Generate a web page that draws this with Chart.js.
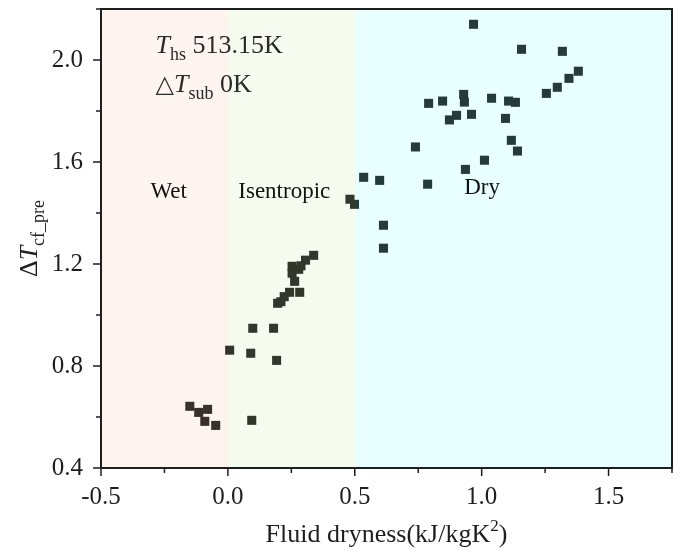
<!DOCTYPE html>
<html><head><meta charset="utf-8">
<script src="https://cdn.jsdelivr.net/npm/chart.js@4.4.1/dist/chart.umd.min.js"></script>
<style>html,body{margin:0;padding:0;background:#fff}</style>
</head><body>
<canvas id="c" width="680" height="552"></canvas>
<script>
// ---- data ----
const dryness = [0.338,0.306,0.288,0.253,0.279,0.253,0.263,0.243,0.283,0.222,0.209,0.196,
  0.098,0.180,0.007,0.090,0.192,-0.150,-0.115,-0.080,-0.091,-0.048,0.094,
  0.613,0.968,1.157,1.318,1.381,1.344,1.298,1.255,0.929,1.039,0.932,0.846,0.791,1.106,1.133,
  0.901,0.873,0.960,1.094,1.117,1.141,0.739,1.011,0.936,0.535,0.598,0.787,0.481,0.499,0.613];
const deltaTcf = [1.234,1.215,1.193,1.191,1.179,1.164,1.132,1.089,1.089,1.072,1.052,1.046,
  0.948,0.948,0.862,0.850,0.822,0.642,0.618,0.630,0.583,0.567,0.587,
  1.262,2.140,2.042,2.034,1.956,1.928,1.893,1.869,1.865,1.850,1.835,1.839,1.830,1.839,1.834,
  1.783,1.765,1.787,1.771,1.685,1.643,1.659,1.607,1.571,1.540,1.528,1.513,1.454,1.434,1.352];
const regionNames = ['Wet', 'Isentropic', 'Dry'];
const regionEdges = [-0.5, 0.0, 0.5, 1.75];
const xMajorTicks = [-0.5, 0.0, 0.5, 1.0, 1.5];
const yMajorTicks = [0.4, 0.8, 1.2, 1.6, 2.0];

// ---- styles ----
const regionColors = ['rgba(245,200,175,0.2)', 'rgba(205,240,175,0.2)', 'rgba(145,255,255,0.2)'];
const regionLabelPos = [[-0.305, 1.459], [0.041, 1.459], [0.931, 1.475]];
const SERIF = '"Liberation Serif", "Times New Roman", serif';
const INK = '#1e1e1e';

function isMajor(v, list){ return list.some(m => Math.abs(m - v) < 1e-6); }
function runs(ctx, x, y, parts){
  for (const [t, f, dy] of parts){ ctx.font = f; ctx.fillText(t, x, y + (dy||0)); x += ctx.measureText(t).width; }
}
function runsWidth(ctx, parts){
  let w = 0; for (const [t, f] of parts){ ctx.font = f; w += ctx.measureText(t).width; } return w;
}
function noPad(s){ s.paddingTop = 0; s.paddingBottom = 0; s.paddingLeft = 0; s.paddingRight = 0; }

const custom = {
  id: 'custom',
  afterDatasetsDraw(chart){
    const {ctx, chartArea: a, scales: {x}} = chart;
    ctx.save();
    for (let i = 0; i < regionNames.length; i++){
      const x0 = x.getPixelForValue(regionEdges[i]), x1 = x.getPixelForValue(regionEdges[i+1]);
      ctx.fillStyle = regionColors[i];
      ctx.fillRect(x0, a.top, x1 - x0, a.bottom - a.top);
    }
    ctx.restore();
  },
  afterDraw(chart){
    const {ctx, chartArea: a, scales: {x, y}} = chart;
    ctx.save();
    // ticks
    ctx.strokeStyle = INK; ctx.lineWidth = 1.5;
    ctx.beginPath();
    x.ticks.forEach(t => {
      const px = x.getPixelForValue(t.value), len = isMajor(t.value, xMajorTicks) ? 8 : 5;
      ctx.moveTo(px, a.bottom); ctx.lineTo(px, a.bottom + len);
    });
    y.ticks.forEach(t => {
      const py = y.getPixelForValue(t.value), len = isMajor(t.value, yMajorTicks) ? 8 : 5;
      ctx.moveTo(a.left, py); ctx.lineTo(a.left - len, py);
    });
    ctx.stroke();
    // frame
    ctx.lineWidth = 2;
    ctx.strokeRect(a.left, a.top, a.right - a.left, a.bottom - a.top);

    ctx.fillStyle = '#2a2a2a';
    ctx.textBaseline = 'alphabetic'; ctx.textAlign = 'left';
    // annotations
    const ax = x.getPixelForValue(-0.285);
    runs(ctx, ax, y.getPixelForValue(2.027), [
      ['T', 'italic 26px ' + SERIF, 0], ['hs', '18px ' + SERIF, 7], [' 513.15K', '26px ' + SERIF, 0]]);
    runs(ctx, ax, y.getPixelForValue(1.875), [
      ['\u25B3', '24px "DejaVu Sans"', 0], ['T', 'italic 26px ' + SERIF, 0], ['sub', '18px ' + SERIF, 7], [' 0K', '26px ' + SERIF, 0]]);
    // region labels
    ctx.fillStyle = '#111';
    ctx.font = '23px ' + SERIF;
    regionNames.forEach((n, i) => {
      ctx.fillText(n, x.getPixelForValue(regionLabelPos[i][0]), y.getPixelForValue(regionLabelPos[i][1]));
    });
    // x title
    ctx.fillStyle = INK;
    const xt = [['Fluid dryness(kJ/kgK', '26px ' + SERIF, 0], ['2', '17px ' + SERIF, -11], [')', '26px ' + SERIF, 0]];
    const xw = runsWidth(ctx, xt);
    runs(ctx, (a.left + a.right) / 2 - xw / 2, 542, xt);
    // y title
    const yt = [['\u0394', '26px ' + SERIF, 0], ['T', 'italic 26px ' + SERIF, 0], ['cf_pre', '18px ' + SERIF, 7]];
    const yw = runsWidth(ctx, yt);
    ctx.translate(37, (a.top + a.bottom) / 2);
    ctx.rotate(-Math.PI / 2);
    runs(ctx, -yw / 2, 0, yt);
    ctx.restore();
  }
};

const points = dryness.map((v, i) => ({x: v, y: deltaTcf[i]}));

new Chart(document.getElementById('c'), {
  type: 'scatter',
  data: { datasets: [{
    data: points,
    pointStyle: 'rect',
    pointRadius: 6.4,
    pointHoverRadius: 6.4,
    backgroundColor: '#0b0b0b',
    borderWidth: 0
  }]},
  options: {
    responsive: false,
    animation: false,
    devicePixelRatio: 1,
    layout: { padding: { top: 9, right: 8, left: 0, bottom: 0 } },
    plugins: { legend: { display: false }, tooltip: { enabled: false } },
    scales: {
      x: {
        type: 'linear', min: -0.5, max: 1.75,
        afterFit: s => { s.height = 84; noPad(s); },
        grid: { display: false, drawTicks: false },
        border: { display: false },
        ticks: {
          stepSize: 0.25, autoSkip: false, maxRotation: 0, padding: 14,
          color: INK, font: { family: SERIF, size: 25 },
          callback: v => isMajor(v, xMajorTicks) ? v.toFixed(1) : ''
        }
      },
      y: {
        type: 'linear', min: 0.4, max: 2.2,
        afterFit: s => { s.width = 101; noPad(s); },
        grid: { display: false, drawTicks: false },
        border: { display: false },
        ticks: {
          stepSize: 0.2, autoSkip: false, padding: 18,
          color: INK, font: { family: SERIF, size: 25 },
          callback: v => isMajor(v, yMajorTicks) ? v.toFixed(1) : ''
        }
      }
    }
  },
  plugins: [custom]
});
</script>
</body></html>
